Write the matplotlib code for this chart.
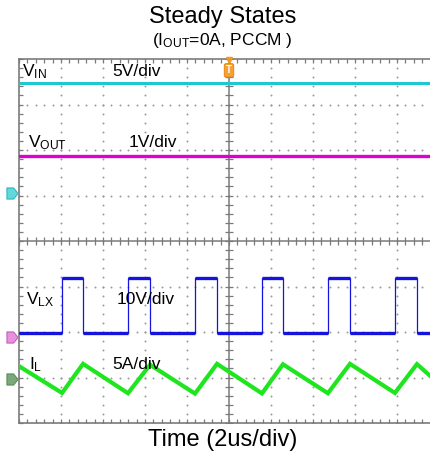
import numpy as np
import matplotlib.pyplot as plt
from matplotlib.path import Path

plt.rcParams['font.family'] = ['Liberation Sans', 'DejaVu Sans']
plt.rcParams['mathtext.fontset'] = 'custom'
plt.rcParams['mathtext.rm'] = 'Liberation Sans'
plt.rcParams['mathtext.default'] = 'regular'

# scope settings: 2us/div, 10 x 8 divisions
t_per_div = 2.0
n_xdiv, n_ydiv = 10, 8

# channel settings (ground offset in div, scale per div)
vin_offset, vin_scale = 1.05, 5.0
vout_offset, vout_scale = -2.11, 1.0
vlx_offset, vlx_scale = -2.02, 10.0
il_offset, il_scale = -3.03, 5.0

# measured levels
vin_level = 12.1      # V
vout_level = 3.98     # V
vlx_low, vlx_high = 0.0, 12.1   # V

# switching edges of LX (us)
rise_us = [2.05, 5.19, 8.38, 11.57, 14.71, 17.90]
fall_us = [3.05, 6.24, 9.43, 12.57, 15.76, 18.95]

# inductor current corners (A): start, valleys at rise, peaks at fall, end
il_start = 1.40
il_valley = [-1.55, -1.58, -1.62, -1.60, -1.58, -1.55]
il_peak = [1.65, 1.55, 1.65, 1.60, 1.65, 1.62]
il_end = -0.55

c_vin = '#1ec8d2'
c_vout = '#dc00d2'
c_vlx = '#1414dc'
c_il = '#1ee61e'
c_grid = '#7a7a7a'
c_dot = '#9a9a9a'

fig = plt.figure(figsize=(4.30, 4.57), dpi=100)
W, H = 430, 457
# axes: left 19px, top 59px, 42px/div wide, 45.5px/div high
ax = fig.add_axes([19 / W, (H - 423) / H, 420 / W, 364 / H])
t_max = n_xdiv * t_per_div
ax.set_xlim(0, t_max)
ax.set_ylim(-n_ydiv / 2, n_ydiv / 2)

# dotted graticule
sub = 0.2
xs = np.arange(0, t_max + 0.01, sub * t_per_div)
ys = np.arange(-n_ydiv / 2, n_ydiv / 2 + 0.01, sub)
for k in range(1, n_xdiv):
    if k == n_xdiv // 2:
        continue
    ax.scatter(np.full(len(ys), k * t_per_div), ys, s=2.0, color=c_dot, lw=0, zorder=1)
for k in range(-n_ydiv // 2 + 1, n_ydiv // 2):
    if k == 0:
        continue
    ax.scatter(xs, np.full(len(xs), k), s=2.0, color=c_dot, lw=0, zorder=1)

# centre cross with tick marks
ax.axvline(t_max / 2, color=c_grid, lw=1.1, zorder=1)
ax.axhline(0, color=c_grid, lw=1.1, zorder=1)
ax.scatter(xs, np.zeros(len(xs)), marker='|', s=30, color=c_grid, lw=0.9, zorder=1)
ax.scatter(np.full(len(ys), t_max / 2), ys, marker='_', s=30, color=c_grid, lw=0.9, zorder=1)

for s in ax.spines.values():
    s.set_color(c_grid)
    s.set_linewidth(1.2)
ax.set_xticks(xs)
ax.set_yticks(ys)
ax.tick_params(direction='in', length=3, color=c_grid, width=0.9,
               labelbottom=False, labelleft=False, top=True, right=True)

# VIN and VOUT traces
ax.plot([0, t_max], [vin_offset + vin_level / vin_scale] * 2, color=c_vin, lw=2.2, zorder=3)
ax.plot([0, t_max], [vout_offset + vout_level / vout_scale] * 2, color=c_vout, lw=2.4, zorder=3)

# LX switching node
lo = vlx_offset + vlx_low / vlx_scale
hi = vlx_offset + vlx_high / vlx_scale
tx, vy = [0.0], [lo]
for r, f in zip(rise_us, fall_us):
    tx += [r, r, f, f]
    vy += [lo, hi, hi, lo]
tx.append(t_max)
vy.append(lo)
ax.plot(tx, vy, color=c_vlx, lw=0.9, zorder=3)
starts = [0.0] + fall_us
ends = rise_us + [t_max]
ax.hlines([lo] * len(starts), starts, ends, color=c_vlx, lw=2.4, zorder=3)
ax.hlines([hi] * len(rise_us), rise_us, fall_us, color=c_vlx, lw=2.4, zorder=3)

# inductor current
it = [0.0]
iv = [il_start]
for r, f, v, p in zip(rise_us, fall_us, il_valley, il_peak):
    it += [r, f]
    iv += [v, p]
it.append(t_max)
iv.append(il_end)
ax.plot(it, il_offset + np.array(iv) / il_scale, color=c_il, lw=3.0,
        solid_joinstyle='miter', zorder=3)

# ground markers on the left edge
tag = Path([(-1, -1), (0.2, -1), (1, 0), (0.2, 1), (-1, 1), (-1, -1)],
           [Path.MOVETO, Path.LINETO, Path.LINETO, Path.LINETO, Path.LINETO, Path.CLOSEPOLY])
for y, fc, ec in [(vin_offset, '#60d8dc', '#30b8c0'),
                  (vout_offset, '#e890dc', '#c060c0'),
                  (il_offset, '#7aa87a', '#5a905a')]:
    ax.plot([-0.32], [y], marker=tag, ms=8, mfc=fc, mec=ec, mew=0.8, clip_on=False, zorder=5)

# trigger marker
ax.plot([t_max / 2], [n_ydiv / 2 - 0.02], marker='v', ms=5, color='#f09820', clip_on=False, zorder=6)
ax.text(t_max / 2, 3.75, 'T', color='white', fontsize=7, fontweight='bold',
        ha='center', va='center', zorder=6,
        bbox=dict(boxstyle='round,pad=0.18', fc='#f5a030', ec='#e08010', lw=0.6))

# channel labels
def label(x, y, s):
    fig.text(x / W, 1 - y / H, s, fontsize=12.5, va='baseline', ha='left')

label(22, 76, r'V$_{IN}$')
label(112, 76, '5V/div')
label(28, 147, r'V$_{OUT}$')
label(129, 147, '1V/div')
label(26, 304, r'V$_{LX}$')
label(117, 304, '10V/div')
label(29, 369, r'I$_{L}$')
label(112, 369, '5A/div')

fig.text(223 / W, 1 - 17 / H, 'Steady States', fontsize=17, ha='center', va='center')
fig.text(222 / W, 1 - 40 / H, r'(I$_{OUT}$=0A, PCCM )', fontsize=12.5, ha='center', va='center')
fig.text(223 / W, 1 - 440 / H, 'Time (2us/div)', fontsize=17, ha='center', va='center')

fig.savefig('out.png', dpi=100)
